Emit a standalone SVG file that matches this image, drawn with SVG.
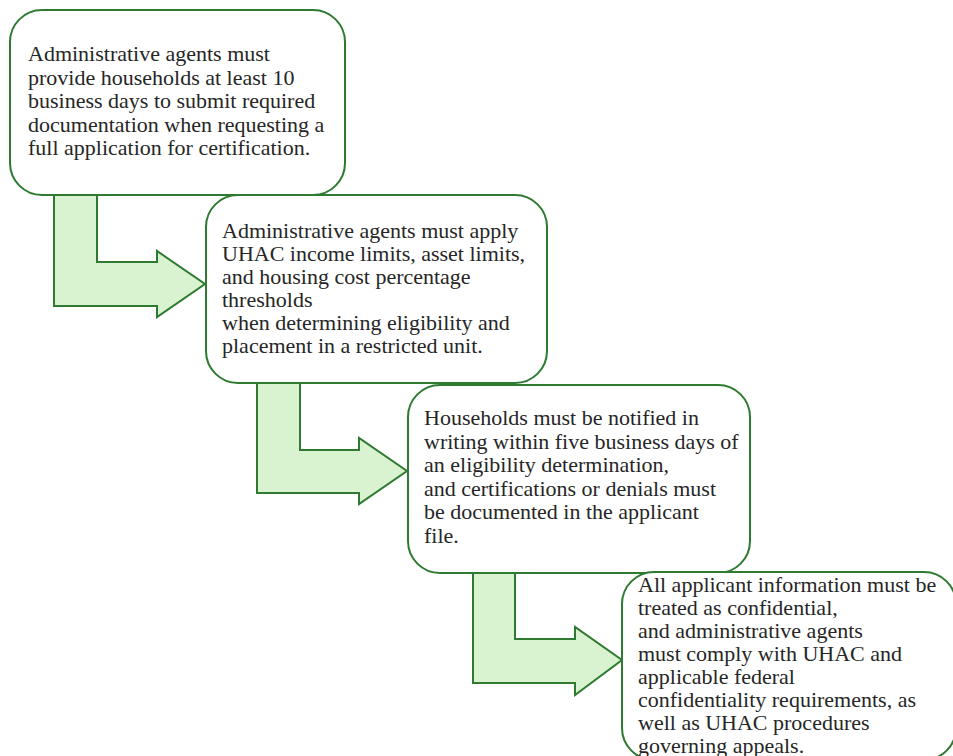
<svg xmlns="http://www.w3.org/2000/svg" width="953" height="756" viewBox="0 0 953 756">
<style>
.box{fill:#ffffff;stroke:#2e7a30;stroke-width:2}
.arr{fill:#d9f2d0;stroke:#2e7a30;stroke-width:2;stroke-linejoin:miter}
.t{font-family:"Liberation Serif","Times New Roman",serif;font-size:22px;fill:#262626}
</style>
<rect width="953" height="756" fill="#ffffff"/>
<g id="connectors">
<polygon class="arr" points="54,180 97,180 97,262 157,262 157,251 205,284 157,317 157,306 54,306"/>
<polygon class="arr" points="257,370 300,370 300,450 359,450 359,438 407,471 359,504 359,493 257,493"/>
<polygon class="arr" points="473,560 515,560 515,639 575,639 575,627 622,660 575,695 575,683 473,683"/>
</g>
<g id="node1">
<rect class="box" x="10" y="10" width="335" height="185" rx="32"/>
<text class="t">
<tspan x="28" y="61">Administrative agents must</tspan>
<tspan x="28" y="84.5">provide households at least 10</tspan>
<tspan x="28" y="108">business days to submit required</tspan>
<tspan x="28" y="131.5">documentation when requesting a</tspan>
<tspan x="28" y="155">full application for certification.</tspan>
</text>
</g>
<g id="node2">
<rect class="box" x="206" y="195" width="341" height="188" rx="32"/>
<text class="t">
<tspan x="222" y="238">Administrative agents must apply</tspan>
<tspan x="222" y="261">UHAC income limits, asset limits,</tspan>
<tspan x="222" y="284">and housing cost percentage</tspan>
<tspan x="222" y="307">thresholds</tspan>
<tspan x="222" y="330">when determining eligibility and</tspan>
<tspan x="222" y="353">placement in a restricted unit.</tspan>
</text>
</g>
<g id="node3">
<rect class="box" x="408" y="385" width="342" height="188" rx="32"/>
<text class="t">
<tspan x="424" y="425">Households must be notified in</tspan>
<tspan x="424" y="448.5">writing within five business days of</tspan>
<tspan x="424" y="472">an eligibility determination,</tspan>
<tspan x="424" y="495.5">and certifications or denials must</tspan>
<tspan x="424" y="519">be documented in the applicant</tspan>
<tspan x="424" y="542.5">file.</tspan>
</text>
</g>
<g id="node4">
<rect class="box" x="622" y="572" width="334" height="188" rx="32"/>
<text class="t">
<tspan x="638" y="591.5">All applicant information must be</tspan>
<tspan x="638" y="614.5">treated as confidential,</tspan>
<tspan x="638" y="637.5">and administrative agents</tspan>
<tspan x="638" y="660.5">must comply with UHAC and</tspan>
<tspan x="638" y="683.5">applicable federal</tspan>
<tspan x="638" y="706.5">confidentiality requirements, as</tspan>
<tspan x="638" y="729.5">well as UHAC procedures</tspan>
<tspan x="638" y="752.5">governing appeals.</tspan>
</text>
</g>
</svg>
